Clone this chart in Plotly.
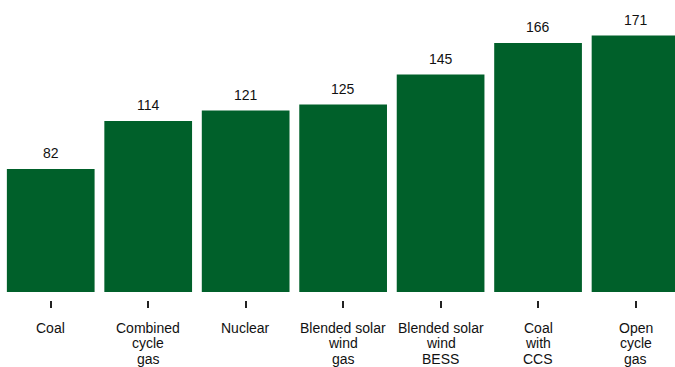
import plotly.graph_objects as go

categories = [["Coal"], ["Combined", "cycle", "gas"], ["Nuclear"], ["Blended solar", "wind", "gas"],
              ["Blended solar", "wind", "BESS"], ["Coal", "with", "CCS"], ["Open", "cycle", "gas"]]
values = [82, 114, 121, 125, 145, 166, 171]
value_labels = [str(v) for v in values]

xs = list(range(len(categories)))
green = "#00602A"
font_family = "Liberation Sans, Arial, sans-serif"

fig = go.Figure(go.Bar(x=xs, y=values, marker=dict(color=green, line=dict(width=0)),
                       hoverinfo="skip"))

for x, v, t in zip(xs, values, value_labels):
    fig.add_annotation(x=x, y=v, text=t, showarrow=False, yanchor="bottom", yshift=6,
                       font=dict(family=font_family, size=14, color="#111111"))

for x, lines in zip(xs, categories):
    for i, line in enumerate(lines):
        fig.add_annotation(x=x, xref="x", y=0, yref="paper", text=line, showarrow=False,
                           yanchor="middle", yshift=-(27.5 + 15.7 * i), borderpad=0,
                           font=dict(family=font_family, size=14, color="#111111"))

fig.update_layout(
    width=675, height=367,
    margin=dict(l=2, r=0, t=0, b=67, pad=0),
    paper_bgcolor="white", plot_bgcolor="white",
    bargap=0.1, showlegend=False,
    font=dict(family=font_family, size=14, color="#111111"),
)
fig.update_xaxes(
    tickmode="array", tickvals=xs, ticktext=["" for _ in xs], automargin=False,
    range=[-0.5, 6.405], ticks="outside", ticklen=7, tickwidth=2, tickcolor="#222222",
    showline=False, showgrid=False, zeroline=False,
)
fig.update_yaxes(range=[-5.33, 194.7], visible=False, showgrid=False, zeroline=False,
                 automargin=False)

fig.write_html("out.html")
